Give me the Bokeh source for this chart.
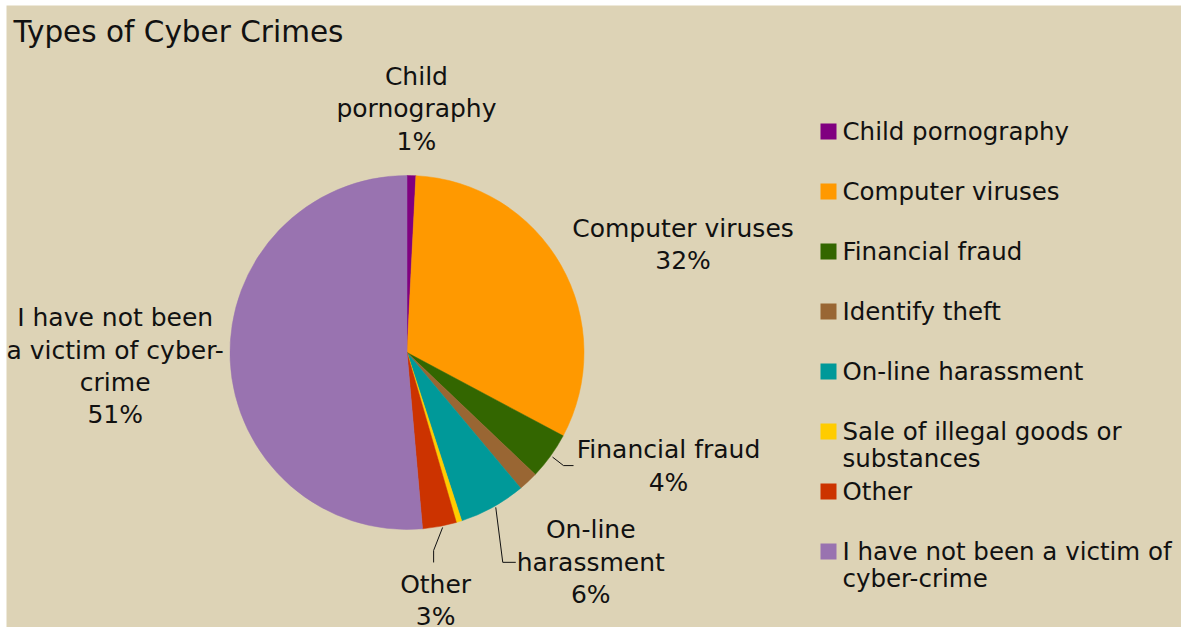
import numpy as np
from bokeh.plotting import figure
from bokeh.models import Range1d, Label, ColumnDataSource
from bokeh.core.properties import value
from bokeh.embed import file_html
from bokeh.resources import INLINE

# ---------------- data ----------------
title = "Types of Cyber Crimes"
categories = ["Child pornography", "Computer viruses", "Financial fraud", "Identify theft",
              "On-line harassment", "Sale of illegal goods or substances", "Other",
              "I have not been a victim of cyber-crime"]
shares = [0.8, 32.0, 4.3, 1.8, 6.1, 0.5, 3.1, 51.4]
colors = ["#800080", "#FF9900", "#336600", "#996633", "#009999", "#FFCC00", "#CC3300", "#9973B0"]
legend_labels = ["Child pornography", "Computer viruses", "Financial fraud", "Identify theft",
                 "On-line harassment", "Sale of illegal goods or\nsubstances", "Other",
                 "I have not been a victim of\ncyber-crime"]
slice_label_names = ["Child\npornography", "Computer viruses", "Financial fraud", None,
                     "On-line\nharassment", None, "Other",
                     "I have not been\na victim of cyber-\ncrime"]

# ---------------- layout / style ----------------
BG = "#DDD3B6"
FONT = "DejaVu Sans"
W, H = 1181, 627
ML, MT = 6, 5                               # white strips at left / top
CX, CY_S, R = 406.5, 352.0, 177.0          # pie centre (screen) and radius
# label offsets from the slice's outer mid point (px, screen y down)
label_offsets = {0: (5, -67), 1: (122, -21), 2: (118, 10), 4: (98, 55), 6: (-4, 74), 7: (-115, 6)}
# leader line points relative to edge point: list of (dx, dy) screen
leaders = {2: [(2, 1), (13, 9.5), (23, 9.5)],
           4: [(3, 0), (10, 55), (23, 55)],
           6: [(3, 1), (-6, 24), (-6, 36)]}
LEG_X, LEG_Y0, LEG_STEP, SQ = 828, 131, 60, 16
LEG_TX = 842


def Y(sy):
    return H - sy


p = figure(width=W, height=H, x_range=Range1d(ML, W), y_range=Range1d(0, H - MT),
           output_backend="svg", toolbar_location=None, min_border=0,
           min_border_left=ML, min_border_top=MT,
           x_axis_type=None, y_axis_type=None,
           background_fill_color=BG, border_fill_color="white", outline_line_color=None)
p.grid.visible = False

vals = np.array(shares, dtype=float)
frac = vals / vals.sum()
ends = np.cumsum(frac)
starts = ends - frac
start_ang = np.pi / 2 - 2 * np.pi * starts
end_ang = np.pi / 2 - 2 * np.pi * ends

src = ColumnDataSource(dict(start=start_ang, end=end_ang, color=colors, cat=categories))
p.wedge(x=CX, y=Y(CY_S), radius=R, start_angle="start", end_angle="end", direction="clock",
        fill_color="color", line_color="color", line_width=0.5, source=src)

# slice labels
lx, ly, lt = [], [], []
lead_xs, lead_ys = [], []
for i, name in enumerate(slice_label_names):
    if name is None:
        continue
    th = 2 * np.pi * (starts[i] + ends[i]) / 2
    ex = CX + R * np.sin(th)
    ey = CY_S - R * np.cos(th)
    dx, dy = label_offsets[i]
    lx.append(ex + dx)
    ly.append(Y(ey + dy))
    lt.append(f"{name}\n{round(vals[i] / vals.sum() * 100):d}%")
    if i in leaders:
        lead_xs.append([ex + a for a, b in leaders[i]])
        lead_ys.append([Y(ey + b) for a, b in leaders[i]])

p.text(x=lx, y=ly, text=lt, text_font=value(FONT), text_font_size="25px",
       text_align="center", text_baseline="middle", text_line_height=1.12, text_color="#111111")
p.multi_line(xs=lead_xs, ys=lead_ys, line_color="#111111", line_width=1)

# legend (manual)
n = len(categories)
leg_y = [Y(LEG_Y0 + i * LEG_STEP) for i in range(n)]
p.rect(x=[LEG_X] * n, y=leg_y, width=SQ, height=SQ, fill_color=colors, line_color=None)
p.text(x=[LEG_TX] * n, y=[v + 15 for v in leg_y], text=legend_labels, text_font=value(FONT),
       text_font_size="24.5px", text_align="left", text_baseline="top", text_line_height=0.95,
       text_color="#111111")

p.add_layout(Label(x=13, y=Y(31), text=title, text_font=FONT, text_font_size="29.5px",
                   text_baseline="middle", text_color="#111111"))

open("out.html", "w").write(file_html(p, INLINE))
